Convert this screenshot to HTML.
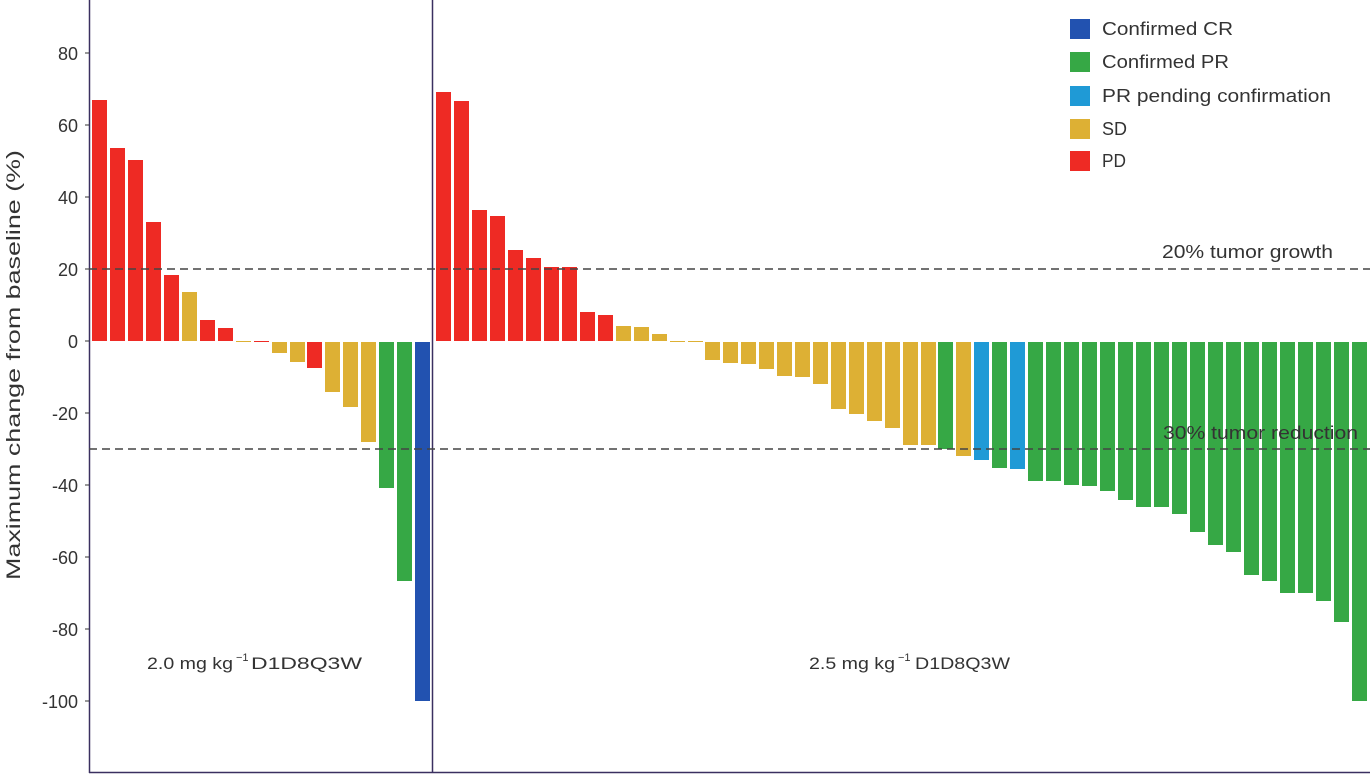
<!DOCTYPE html>
<html><head><meta charset="utf-8"><style>
html,body{margin:0;padding:0;background:#fff;}
svg{display:block;font-family:"Liberation Sans",sans-serif;}
</style></head><body>
<svg width="1370" height="774" viewBox="0 0 1370 774" xmlns="http://www.w3.org/2000/svg">
<rect x="0" y="0" width="1370" height="774" fill="#fff"/>
<line x1="89.5" y1="0" x2="89.5" y2="773" stroke="#3a3060" stroke-width="1.5"/>
<line x1="432.5" y1="0" x2="432.5" y2="773" stroke="#3a3060" stroke-width="1.5"/>
<line x1="89" y1="772.5" x2="1370" y2="772.5" stroke="#3a3060" stroke-width="1.5"/>
<g stroke="#333" stroke-width="1">
<line x1="85" y1="53" x2="89" y2="53"/><line x1="85" y1="125" x2="89" y2="125"/><line x1="85" y1="197" x2="89" y2="197"/><line x1="85" y1="269" x2="89" y2="269"/><line x1="85" y1="341" x2="89" y2="341"/><line x1="85" y1="413" x2="89" y2="413"/><line x1="85" y1="485" x2="89" y2="485"/><line x1="85" y1="557" x2="89" y2="557"/><line x1="85" y1="629" x2="89" y2="629"/><line x1="85" y1="701" x2="89" y2="701"/>
</g>
<g font-size="18" fill="#333" text-anchor="end">
<text x="78" y="60">80</text><text x="78" y="132">60</text><text x="78" y="204">40</text><text x="78" y="276">20</text><text x="78" y="348">0</text><text x="78" y="420">-20</text><text x="78" y="492">-40</text><text x="78" y="564">-60</text><text x="78" y="636">-80</text><text x="78" y="708">-100</text>
</g>
<text transform="translate(20,365) rotate(-90)" font-size="19" fill="#333" text-anchor="middle" textLength="430" lengthAdjust="spacingAndGlyphs">Maximum change from baseline (%)</text>
<g>
<rect x="92" y="100" width="15" height="241" fill="#ee2a24"/>
<rect x="110" y="148" width="15" height="193" fill="#ee2a24"/>
<rect x="128" y="160" width="15" height="181" fill="#ee2a24"/>
<rect x="146" y="222" width="15" height="119" fill="#ee2a24"/>
<rect x="164" y="275" width="15" height="66" fill="#ee2a24"/>
<rect x="182" y="292" width="15" height="49" fill="#ddb034"/>
<rect x="200" y="320" width="15" height="21" fill="#ee2a24"/>
<rect x="218" y="328" width="15" height="13" fill="#ee2a24"/>
<rect x="236" y="341" width="15" height="1" fill="#ddb034"/>
<rect x="254" y="341" width="15" height="1" fill="#ee2a24"/>
<rect x="272" y="342" width="15" height="11" fill="#ddb034"/>
<rect x="290" y="342" width="15" height="20" fill="#ddb034"/>
<rect x="307" y="342" width="15" height="26" fill="#ee2a24"/>
<rect x="325" y="342" width="15" height="50" fill="#ddb034"/>
<rect x="343" y="342" width="15" height="65" fill="#ddb034"/>
<rect x="361" y="342" width="15" height="100" fill="#ddb034"/>
<rect x="379" y="342" width="15" height="146" fill="#36a845"/>
<rect x="397" y="342" width="15" height="239" fill="#36a845"/>
<rect x="415" y="342" width="15" height="359" fill="#2252b0"/>
</g>
<g>
<rect x="436" y="92" width="15" height="249" fill="#ee2a24"/>
<rect x="454" y="101" width="15" height="240" fill="#ee2a24"/>
<rect x="472" y="210" width="15" height="131" fill="#ee2a24"/>
<rect x="490" y="216" width="15" height="125" fill="#ee2a24"/>
<rect x="508" y="250" width="15" height="91" fill="#ee2a24"/>
<rect x="526" y="258" width="15" height="83" fill="#ee2a24"/>
<rect x="544" y="267" width="15" height="74" fill="#ee2a24"/>
<rect x="562" y="267" width="15" height="74" fill="#ee2a24"/>
<rect x="580" y="312" width="15" height="29" fill="#ee2a24"/>
<rect x="598" y="315" width="15" height="26" fill="#ee2a24"/>
<rect x="616" y="326" width="15" height="15" fill="#ddb034"/>
<rect x="634" y="327" width="15" height="14" fill="#ddb034"/>
<rect x="652" y="334" width="15" height="7" fill="#ddb034"/>
<rect x="670" y="341" width="15" height="1" fill="#ddb034"/>
<rect x="688" y="341" width="15" height="1" fill="#ddb034"/>
<rect x="705" y="342" width="15" height="18" fill="#ddb034"/>
<rect x="723" y="342" width="15" height="21" fill="#ddb034"/>
<rect x="741" y="342" width="15" height="22" fill="#ddb034"/>
<rect x="759" y="342" width="15" height="27" fill="#ddb034"/>
<rect x="777" y="342" width="15" height="34" fill="#ddb034"/>
<rect x="795" y="342" width="15" height="35" fill="#ddb034"/>
<rect x="813" y="342" width="15" height="42" fill="#ddb034"/>
<rect x="831" y="342" width="15" height="67" fill="#ddb034"/>
<rect x="849" y="342" width="15" height="72" fill="#ddb034"/>
<rect x="867" y="342" width="15" height="79" fill="#ddb034"/>
<rect x="885" y="342" width="15" height="86" fill="#ddb034"/>
<rect x="903" y="342" width="15" height="103" fill="#ddb034"/>
<rect x="921" y="342" width="15" height="103" fill="#ddb034"/>
<rect x="938" y="342" width="15" height="107" fill="#36a845"/>
<rect x="956" y="342" width="15" height="114" fill="#ddb034"/>
<rect x="974" y="342" width="15" height="118" fill="#1f9ad6"/>
<rect x="992" y="342" width="15" height="126" fill="#36a845"/>
<rect x="1010" y="342" width="15" height="127" fill="#1f9ad6"/>
<rect x="1028" y="342" width="15" height="139" fill="#36a845"/>
<rect x="1046" y="342" width="15" height="139" fill="#36a845"/>
<rect x="1064" y="342" width="15" height="143" fill="#36a845"/>
<rect x="1082" y="342" width="15" height="144" fill="#36a845"/>
<rect x="1100" y="342" width="15" height="149" fill="#36a845"/>
<rect x="1118" y="342" width="15" height="158" fill="#36a845"/>
<rect x="1136" y="342" width="15" height="165" fill="#36a845"/>
<rect x="1154" y="342" width="15" height="165" fill="#36a845"/>
<rect x="1172" y="342" width="15" height="172" fill="#36a845"/>
<rect x="1190" y="342" width="15" height="190" fill="#36a845"/>
<rect x="1208" y="342" width="15" height="203" fill="#36a845"/>
<rect x="1226" y="342" width="15" height="210" fill="#36a845"/>
<rect x="1244" y="342" width="15" height="233" fill="#36a845"/>
<rect x="1262" y="342" width="15" height="239" fill="#36a845"/>
<rect x="1280" y="342" width="15" height="251" fill="#36a845"/>
<rect x="1298" y="342" width="15" height="251" fill="#36a845"/>
<rect x="1316" y="342" width="15" height="259" fill="#36a845"/>
<rect x="1334" y="342" width="15" height="280" fill="#36a845"/>
<rect x="1352" y="342" width="15" height="359" fill="#36a845"/>
</g>
<line x1="89" y1="269" x2="1370" y2="269" stroke="#444" stroke-width="1.4" stroke-dasharray="8,5"/>
<line x1="89" y1="449" x2="1370" y2="449" stroke="#444" stroke-width="1.4" stroke-dasharray="8,5"/>
<g font-size="18" fill="#333">
<text x="1162" y="258" textLength="171" lengthAdjust="spacingAndGlyphs">20% tumor growth</text>
<text x="1163" y="439" textLength="195" lengthAdjust="spacingAndGlyphs">30% tumor reduction</text>
</g>
<g font-size="17" fill="#333">
<text x="147" y="669" textLength="86" lengthAdjust="spacingAndGlyphs">2.0 mg kg</text><text x="236" y="661" font-size="11">−1</text><text x="251" y="669" textLength="111" lengthAdjust="spacingAndGlyphs">D1D8Q3W</text>
<text x="809" y="669" textLength="86" lengthAdjust="spacingAndGlyphs">2.5 mg kg</text><text x="898" y="661" font-size="11">−1</text><text x="915" y="669" textLength="95" lengthAdjust="spacingAndGlyphs">D1D8Q3W</text>
</g>
<g font-size="18" fill="#333">
<rect x="1070" y="19" width="20" height="20" fill="#2252b0"/><text x="1102" y="35" textLength="131" lengthAdjust="spacingAndGlyphs">Confirmed CR</text>
<rect x="1070" y="52" width="20" height="20" fill="#36a845"/><text x="1102" y="68" textLength="127" lengthAdjust="spacingAndGlyphs">Confirmed PR</text>
<rect x="1070" y="86" width="20" height="20" fill="#1f9ad6"/><text x="1102" y="102" textLength="229" lengthAdjust="spacingAndGlyphs">PR pending confirmation</text>
<rect x="1070" y="119" width="20" height="20" fill="#ddb034"/><text x="1102" y="135" textLength="25" lengthAdjust="spacingAndGlyphs">SD</text>
<rect x="1070" y="151" width="20" height="20" fill="#ee2a24"/><text x="1102" y="167" textLength="24" lengthAdjust="spacingAndGlyphs">PD</text>
</g>
</svg>
</body></html>
